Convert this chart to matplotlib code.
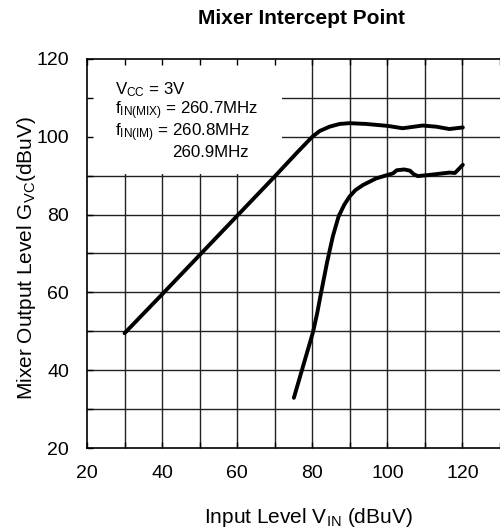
import matplotlib
matplotlib.use('Agg')
import matplotlib.pyplot as plt
from matplotlib.patches import Rectangle
import numpy as np

plt.rcParams['font.family'] = ['Liberation Sans', 'DejaVu Sans']
plt.rcParams['mathtext.fontset'] = 'custom'
plt.rcParams['mathtext.rm'] = 'Liberation Sans'
plt.rcParams['mathtext.it'] = 'Liberation Sans:italic'

# mixer output (wanted signal)
mix_x = [30, 40, 50, 60, 70, 76, 78, 80, 82, 84.6, 87.3, 89.9, 94.4, 100.1, 104.1, 109.4, 113.0, 116.5, 120.1]
mix_y = [49.5, 59.5, 69.6, 79.7, 89.8, 96.0, 98.0, 100.0, 101.5, 102.6, 103.3, 103.5, 103.3, 102.8, 102.2, 102.9, 102.6, 102.0, 102.4]

# intermodulation output
im_x = [75.1, 77.6, 80.2, 81.3, 82.2, 84.0, 85.5, 87.0, 88.5, 89.9, 91.5, 93.5, 97.0, 100.1, 101.5, 102.5, 104.5, 106.0, 107.0, 108.1, 111.2, 116.5, 118.0, 120.1]
im_y = [32.9, 41.2, 49.8, 54.6, 59.2, 68.0, 74.5, 79.5, 82.5, 84.6, 86.3, 87.6, 89.3, 90.2, 90.6, 91.4, 91.6, 91.3, 90.4, 89.9, 90.2, 90.8, 90.7, 92.8]

x_ticks = [20, 40, 60, 80, 100, 120]
y_ticks = [20, 40, 60, 80, 100, 120]

note_lines = [r'V$_{\mathrm{CC}}$ = 3V',
              r'f$_{\mathrm{IN(MIX)}}$ = 260.7MHz',
              r'f$_{\mathrm{IN(IM)}}$ = 260.8MHz',
              '260.9MHz']

fig = plt.figure(figsize=(5, 5.31), dpi=100)
ax = fig.add_axes([0.174, 0.1563, 0.826, 0.7326])
ax.set_xlim(20, 130)
ax.set_ylim(20, 120)

# grid
for gx in np.arange(30, 130, 10):
    ax.axvline(gx, color='#222222', lw=1.0, zorder=1)
for gy in np.arange(30, 120, 10):
    ax.axhline(gy, color='#222222', lw=1.0, zorder=1)

# white area behind the conditions text
ax.add_patch(Rectangle((20, 90.4), 52, 29.6, facecolor='white', edgecolor='none', zorder=1.2))

ax.plot(mix_x, mix_y, color='black', lw=2.8, solid_capstyle='round', solid_joinstyle='round', zorder=2)
ax.plot(im_x, im_y, color='black', lw=2.8, solid_capstyle='round', solid_joinstyle='round', zorder=2)

ax.set_axisbelow(False)
ax.set_xticks(x_ticks)
ax.set_yticks(y_ticks)
ax.set_xticks(np.arange(20, 131, 10), minor=True)
ax.set_yticks(np.arange(20, 121, 10), minor=True)
ax.tick_params(which='both', direction='in', length=4, width=1, top=True, right=False, labelsize=14)
ax.tick_params(axis='x', which='major', pad=12)
ax.tick_params(axis='y', which='major', pad=13)
ax.spines['right'].set_visible(False)
for s in ['left', 'top', 'bottom']:
    ax.spines[s].set_linewidth(1.2)

ys = [0.909, 0.858, 0.802, 0.747]
xs = [0.068, 0.068, 0.068, 0.206]
for txt, tx, ty in zip(note_lines, xs, ys):
    ax.text(tx, ty, txt, transform=ax.transAxes, fontsize=12.2, va='baseline', ha='left', zorder=3)

fig.text(0.604, 0.955, 'Mixer Intercept Point', fontsize=15, fontweight='bold', ha='center', va='baseline')
fig.text(0.617, 0.015, r'Input Level V$_{\mathrm{IN}}$ (dBuV)', fontsize=15, ha='center', va='baseline')
fig.text(0.053, 0.514, r'Mixer Output Level G$_{\mathrm{VC}}$(dBuV)', fontsize=15, rotation=90, ha='center', va='center')

fig.savefig('out.png', dpi=100)
